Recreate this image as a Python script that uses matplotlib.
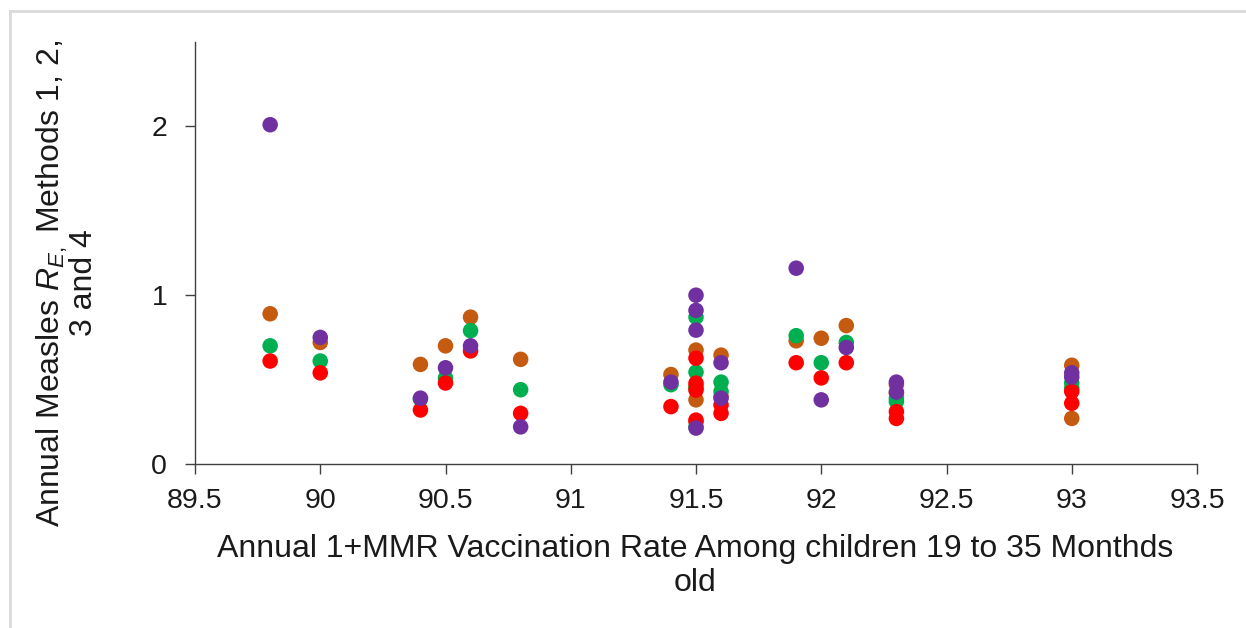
import matplotlib
matplotlib.use("Agg")
import matplotlib.pyplot as plt
from matplotlib.lines import Line2D

plt.rcParams['font.family'] = ['Liberation Sans', 'DejaVu Sans']
plt.rcParams['mathtext.fontset'] = 'custom'
plt.rcParams['mathtext.rm'] = 'Liberation Sans'
plt.rcParams['mathtext.it'] = 'Liberation Sans:italic'

# vaccination rate for each year (%), one entry per year
rates = [89.8, 90.0, 90.4, 90.5, 90.6, 90.8, 91.4,
         91.5, 91.5, 91.5, 91.5, 91.6, 91.6,
         91.9, 92.0, 92.1, 92.3, 92.3, 93.0, 93.0]

# annual R_E estimates, one list per method
method1 = [0.89, 0.72, 0.59, 0.70, 0.87, 0.62, 0.53,
           0.675, 0.38, 0.46, 0.25, 0.645, 0.40,
           0.73, 0.745, 0.82, 0.47, 0.42, 0.585, 0.27]
method2 = [0.70, 0.61, 0.385, 0.51, 0.79, 0.44, 0.47,
           0.87, 0.544, 0.45, 0.22, 0.485, 0.43,
           0.76, 0.60, 0.72, 0.39, 0.37, 0.48, 0.45]
method3 = [0.61, 0.54, 0.32, 0.48, 0.67, 0.30, 0.34,
           0.627, 0.479, 0.438, 0.26, 0.35, 0.30,
           0.60, 0.51, 0.60, 0.31, 0.27, 0.43, 0.36]
method4 = [2.01, 0.75, 0.39, 0.57, 0.70, 0.22, 0.485,
           0.91, 1.00, 0.793, 0.213, 0.60, 0.39,
           1.16, 0.38, 0.69, 0.485, 0.426, 0.54, 0.515]

series = [method1, method2, method3, method4]
colors = ['#C55A11', '#00B050', '#FF0000', '#7030A0']

W, H = 1246, 628
fig = plt.figure(figsize=(W / 100, H / 100), dpi=100)
ax = fig.add_axes([195 / W, 1 - 464 / H, (1197 - 195) / W, (464 - 42) / H])

for vals, c in zip(series, colors):
    ax.scatter(rates, vals, s=125, color=c, edgecolors='none', zorder=3)

ax.set_xlim(89.5, 93.5)
ax.set_ylim(0, 2.5)
ax.set_xticks([89.5, 90, 90.5, 91, 91.5, 92, 92.5, 93, 93.5])
ax.set_xticklabels(['89.5', '90', '90.5', '91', '91.5', '92', '92.5', '93', '93.5'])
ax.set_yticks([0, 1, 2])

for side in ['top', 'right']:
    ax.spines[side].set_visible(False)
for side in ['left', 'bottom']:
    ax.spines[side].set_color('#404040')
    ax.spines[side].set_linewidth(1.0)
ax.tick_params(axis='both', direction='out', length=7, width=1.0,
               color='#404040', labelsize=20.5, labelcolor='#1a1a1a')
ax.tick_params(axis='x', pad=10)
ax.tick_params(axis='y', pad=13)

fig.text(67 / W, 1 - 283 / H,
         "Annual Measles $R_{E,}$ Methods 1, 2,\n3 and 4",
         rotation=90, ha='center', va='center', multialignment='center',
         fontsize=23, color='#1a1a1a', linespacing=0.95)
fig.text(695 / W, 1 - 566 / H,
         "Annual 1+MMR Vaccination Rate Among children 19 to 35 Monthds\nold",
         ha='center', va='center', multialignment='center',
         fontsize=23, color='#1a1a1a', linespacing=1.15)

# thin grey frame along the top and left edges
fig.add_artist(Line2D([9.5 / W, 9.5 / W], [0, 1 - 11 / H], transform=fig.transFigure,
                      color='#D9D9D9', linewidth=2))
fig.add_artist(Line2D([9.5 / W, 1], [1 - 11 / H, 1 - 11 / H], transform=fig.transFigure,
                      color='#D9D9D9', linewidth=2))

fig.savefig('out.png', dpi=100)
